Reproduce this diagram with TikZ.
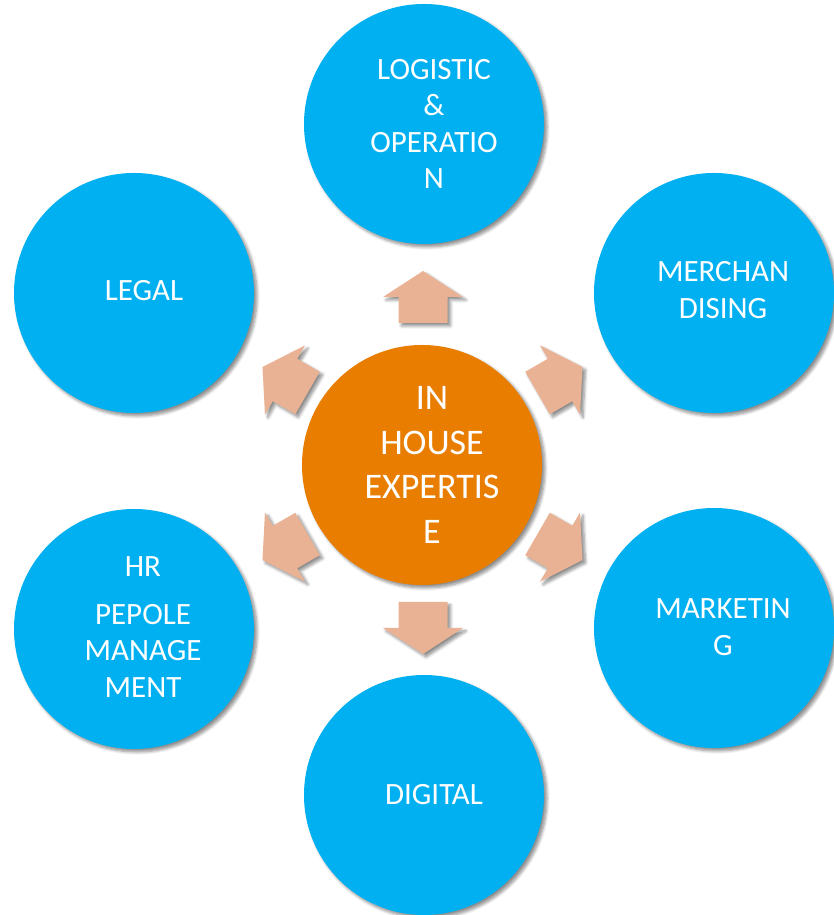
\documentclass[tikz,border=0pt]{standalone}
\usepackage{fontspec}
\setmainfont{Carlito}
\usetikzlibrary{shadows.blur}
\definecolor{satblue}{RGB}{0,176,240}
\definecolor{hubor}{RGB}{232,125,0}
\definecolor{arrsal}{RGB}{233,178,148}
\tikzset{
  shd/.style={blur shadow={shadow xshift=3pt,shadow yshift=-3pt,shadow blur steps=6,shadow opacity=45,shadow blur radius=3pt}},
  sat/.style={circle,fill=satblue,draw=none,minimum size=240pt,inner sep=0pt,shd},
  hub/.style={circle,fill=hubor,draw=none,minimum size=240pt,inner sep=0pt,shd},
  sattext/.style={text=white,align=center,font=\fontsize{31}{36.5}\selectfont,inner sep=0pt},
  hubtext/.style={text=white,align=center,font=\fontsize{36}{44.5}\selectfont,inner sep=0pt},
  arr/.style={fill=arrsal,draw=none,shd}
}
\newcommand{\fatarrow}[2]{%
  \path[arr,shift={#1},rotate=#2] (-26,-24.5) -- (0,-24.5) -- (0,-40) -- (26,0) -- (0,40) -- (0,24.5) -- (-26,24.5) -- cycle;}
\begin{document}
\begin{tikzpicture}[x=1pt,y=1pt]
\useasboundingbox (0,0) rectangle (833,915);
% satellites
\node[sat] (logi) at (424,791) {};
\node[sat] (legal) at (134,622) {};
\node[sat] (merch) at (714,622) {};
\node[sat] (hr) at (134,286) {};
\node[sat] (mkt) at (714,287) {};
\node[sat] (dig) at (424,120) {};
\node[hub] (hubc) at (422,450) {};
% arrows
\fatarrow{(423,618)}{90}
\fatarrow{(285,535)}{150}
\fatarrow{(560,535)}{30}
\fatarrow{(285,368)}{210}
\fatarrow{(560,368)}{-30}
\fatarrow{(423,287)}{-90}
% texts
\node[sattext] (tlogi) at (434,791) {LOGISTIC\\\&\\OPERATIO\\N};
\node[sattext] (tlegal) at (144,624) {LEGAL};
\node[sattext] (tmerch) at (723,625) {MERCHAN\\DISING};
\node[sattext] (thr) at (143,288) {HR\\[11pt]PEPOLE\\MANAGE\\MENT};
\node[sattext] (tmkt) at (723,288) {MARKETIN\\G};
\node[sattext] (tdig) at (434,120) {DIGITAL};
\node[hubtext] (thub) at (432,450) {IN\\HOUSE\\EXPERTIS\\E};
\end{tikzpicture}
\end{document}
